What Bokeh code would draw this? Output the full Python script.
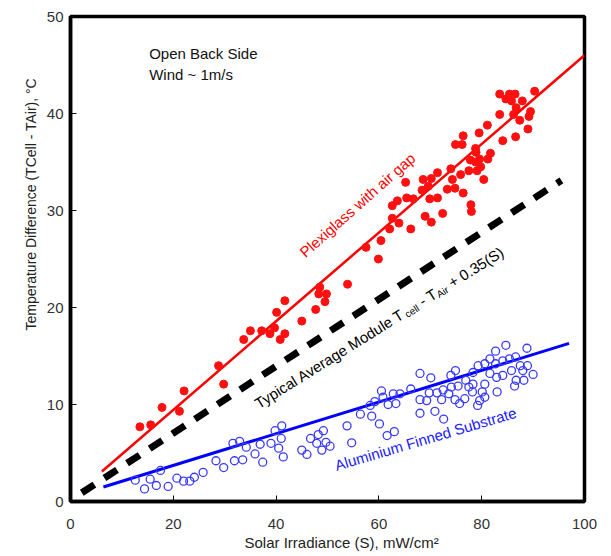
import math
from bokeh.plotting import figure
from bokeh.models import Label, FixedTicker, Range1d, Title
from bokeh.embed import file_html
from bokeh.resources import INLINE

# ---------------- data ----------------
x_ticks = [0, 20, 40, 60, 80, 100]
y_ticks = [0, 10, 20, 30, 40, 50]

red_x = [13.5, 15.6, 17.8, 21.2, 22.1, 28.8, 29.8, 33.7, 35.0, 37.2, 38.8, 39.7, 40.1, 40.8,
         41.7, 41.7, 45.0, 47.7, 48.5, 48.3, 49.8, 49.5, 53.9, 57.5, 59.9, 60.4, 62.1, 62.6,
         62.6, 63.6, 63.9, 65.2, 65.4, 66.2, 66.7, 68.4, 68.6, 69.0, 69.6, 69.9, 70.2, 70.2,
         71.4, 71.4, 72.4, 73.3, 74.0, 74.3, 74.8, 74.9, 75.9, 76.2, 76.4, 76.4, 77.5, 77.8,
         77.9, 78.0, 78.8, 78.8, 78.9, 79.1, 79.5, 79.6, 79.8, 80.4, 81.1, 81.2, 81.7, 83.5,
         83.5, 84.1, 84.7, 85.4, 85.8, 86.2, 86.5, 86.6, 86.7, 87.4, 87.9, 89.0, 89.2, 89.5,
         90.3]
red_y = [7.7, 7.9, 9.7, 9.3, 11.4, 14.0, 12.1, 16.7, 17.6, 17.6, 17.3, 17.9, 19.5, 16.7,
         17.3, 20.7, 18.6, 19.8, 22.1, 21.4, 21.4, 20.6, 22.4, 26.2, 25.0, 26.9, 28.1, 29.2,
         30.5, 31.0, 28.7, 32.9, 31.3, 28.1, 31.2, 32.1, 33.2, 29.4, 32.5, 31.2, 33.3, 28.8,
         33.9, 31.3, 29.7, 32.2, 34.3, 33.2, 32.3, 36.8, 33.7, 36.8, 37.7, 31.8, 34.1, 35.2,
         30.6, 29.9, 36.4, 35.0, 36.0, 34.1, 38.0, 35.3, 34.5, 33.2, 38.8, 35.3, 35.9, 42.0,
         39.9, 37.2, 41.5, 42.0, 41.3, 39.9, 42.0, 37.6, 40.6, 39.3, 41.3, 38.4, 39.7, 40.2,
         42.3]

blue_x = [12.6, 14.4, 15.5, 16.7, 17.5, 19.0, 20.7, 22.0, 23.2, 24.1, 25.8, 28.3, 29.8, 31.6,
          32.9, 31.9, 33.5, 34.2, 35.9, 36.9, 37.4, 39.0, 39.8, 41.1, 41.0, 40.5, 41.4, 45.0,
          46.0, 46.7, 48.2, 49.2, 47.9, 49.7, 50.5, 48.9, 53.8, 56.4, 58.6, 54.7, 59.2, 60.1,
          61.6, 63.0, 58.3, 60.5, 60.8, 61.8, 62.8, 63.3, 64.1, 66.2, 68.0, 68.0, 68.0, 69.3,
          69.8, 70.1, 70.9, 72.6, 71.3, 72.2, 72.5, 73.6, 74.0, 74.9, 74.1, 75.4, 74.8, 75.7,
          76.7, 76.9, 77.5, 78.3, 78.2, 78.3, 79.3, 79.2, 79.6, 80.1, 80.6, 80.6, 81.6, 80.6,
          81.6, 82.9, 83.0, 82.7, 82.7, 84.7, 84.1, 84.1, 85.4, 85.8, 86.6, 86.7, 86.4, 87.5,
          88.0, 88.2, 88.8, 88.9, 90.0]
blue_y = [2.2, 1.3, 2.3, 1.65, 3.2, 1.55, 2.4, 2.1, 2.1, 2.5, 3.0, 4.2, 3.5, 6.0,
          6.2, 4.2, 4.3, 5.6, 4.9, 5.9, 4.05, 6.0, 7.3, 7.8, 6.5, 5.5, 4.6, 5.3,
          4.85, 6.5, 6.9, 7.3, 6.0, 6.1, 5.7, 5.3, 7.8, 9.0, 8.8, 6.05, 10.3, 8.0,
          6.8, 7.2, 9.9, 11.4, 10.75, 10.0, 11.1, 10.1, 11.1, 11.6, 13.2, 10.5, 9.1, 10.4,
          11.2, 12.75, 9.3, 8.5, 11.2, 10.5, 11.5, 11.1, 13.0, 13.5, 11.8, 11.9, 10.5, 10.1,
          10.6, 12.5, 11.8, 12.1, 11.3, 13.3, 14.0, 9.9, 10.4, 11.3, 12.1, 10.75, 13.2, 14.2,
          14.7, 12.8, 11.3, 14.2, 15.5, 16.1, 14.5, 13.0, 14.7, 13.5, 14.9, 12.5, 11.9, 14.0,
          13.5, 12.5, 15.8, 14.0, 13.1]

red_fit_x = [6.1, 100.0]
red_fit_y = [3.1, 46.0]
blue_fit_x = [6.4, 97.0]
blue_fit_y = [1.5, 16.3]
typ_fit_x = [2.2, 95.5]
typ_fit_y = [0.9, 33.1]

FONT = "Liberation Sans"

# ---------------- figure ----------------
p = figure(width=611, height=556, x_range=Range1d(0, 100), y_range=Range1d(0, 50),
           output_backend="svg", toolbar_location=None,
           min_border_left=70, min_border_right=27, min_border_top=16, min_border_bottom=55)
p.grid.visible = False
p.outline_line_color = "black"
p.outline_line_width = 3.5
p.outline_line_alpha = 1.0
p.background_fill_color = "white"
p.border_fill_color = "white"

for ax, ticks in ((p.xaxis, x_ticks), (p.yaxis, y_ticks)):
    ax.ticker = FixedTicker(ticks=ticks)
    ax.major_tick_in = 6
    ax.major_tick_out = 0
    ax.major_tick_line_color = "black"
    ax.major_tick_line_width = 1
    ax.minor_tick_line_color = None
    ax.axis_line_color = "black"
    ax.axis_line_width = 3.5
    ax.major_label_text_font = FONT
    ax.major_label_text_font_size = "15px"
    ax.major_label_text_color = "#333333"
p.xaxis.major_label_standoff = 17
p.yaxis.major_label_standoff = 7

# axis titles (as titles so they can be offset like the reference)
p.add_layout(Title(text="Solar Irradiance (S), mW/cm²", align="left", offset=174,
                   text_font=FONT, text_font_size="15px", text_font_style="normal",
                   text_color="#222222", standoff=0), "below")
p.add_layout(Title(text="Temperature Difference (TCell - TAir), °C", align="left", offset=171,
                   text_font=FONT, text_font_size="14px", text_font_style="normal",
                   text_color="#222222", standoff=10), "left")

# fit lines
p.line(typ_fit_x, typ_fit_y, line_color="black", line_width=7, line_dash="15 12", line_cap="butt")
p.line(red_fit_x, red_fit_y, line_color="#ff0000", line_width=2.5)
p.line(blue_fit_x, blue_fit_y, line_color="#0000ff", line_width=3)

# points
p.scatter(red_x, red_y, marker="circle", size=8, fill_color="#ff1010", line_color="#ff1010")
p.scatter(blue_x, blue_y, marker="circle", size=8, fill_color=None,
          line_color="#3a3aff", line_width=1.3)


def piece(text, x, y, d, shift, size, ang, color):
    th = math.radians(ang)
    xo = d * math.cos(th) + shift * math.sin(th)
    yo = d * math.sin(th) - shift * math.cos(th)
    return Label(x=x, y=y, x_offset=xo, y_offset=yo, text=text, angle=ang, angle_units="deg",
                 text_font=FONT, text_font_size=f"{size}px", text_color=color,
                 text_align="left", text_baseline="alphabetic")


# corner note
p.add_layout(Label(x=15.3, y=46.2, text="Open Back Side", text_font=FONT, text_font_size="15px",
                   text_color="#111111", text_baseline="alphabetic"))
p.add_layout(Label(x=15.3, y=44.0, text="Wind ~ 1m/s", text_font=FONT, text_font_size="15px",
                   text_color="#111111", text_baseline="alphabetic"))

# series labels
p.add_layout(piece("Plexiglass with air gap", 45.0, 25.5, 0, 0, 15, 41.5, "#ff0000"))
p.add_layout(piece("Aluminium Finned Substrate", 51.5, 3.7, 0, 0, 15, 16.5, "#2020ff"))

ang = 32.0
ax0, ay0 = 36.1, 10.0
p.add_layout(piece("Typical Average Module T", ax0, ay0, 0, 0, 15, ang, "black"))
p.add_layout(piece("cell", ax0, ay0, 174.2, 3.5, 10, ang, "black"))
p.add_layout(piece("- T", ax0, ay0, 193.4, 0, 15, ang, "black"))
p.add_layout(piece("Air", ax0, ay0, 211.7, 3.5, 10, ang, "black"))
p.add_layout(piece("+ 0.35(S)", ax0, ay0, 228.1, 0, 15, ang, "black"))

open("out.html", "w").write(file_html(p, INLINE))
